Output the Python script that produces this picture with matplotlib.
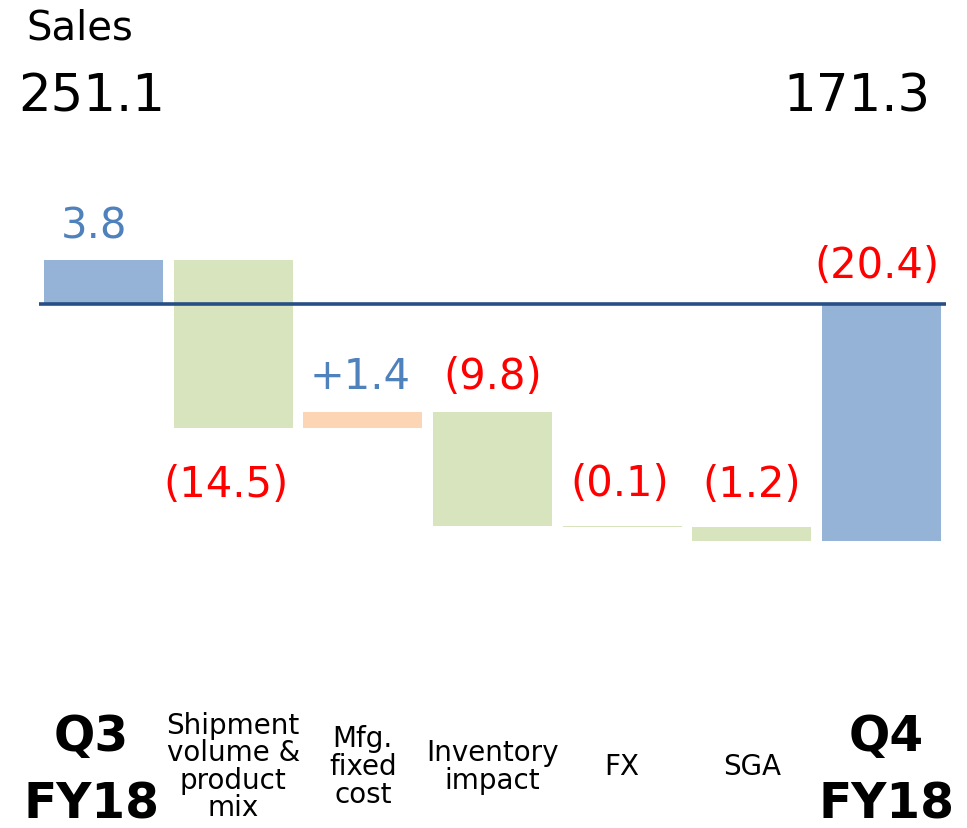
import matplotlib
matplotlib.use("Agg")
import matplotlib.pyplot as plt
import numpy as np

plt.rcParams['font.family'] = ['DejaVu Sans']

categories = ["Q3\nFY18", "Shipment\nvolume &\nproduct\nmix", "Mfg.\nfixed\ncost",
              "Inventory\nimpact", "FX", "SGA", "Q4\nFY18"]
changes = [3.8, -14.5, 1.4, -9.8, -0.1, -1.2]
value_labels = ["3.8", "(14.5)", "+1.4", "(9.8)", "(0.1)", "(1.2)", "(20.4)"]
sales_start = "251.1"
sales_end = "171.3"

BLUE = "#95B3D7"
GREEN = "#D7E4BD"
PEACH = "#FCD5B5"
LINE = "#254F85"
POS_TXT = "#4F81BD"
NEG_TXT = "#FF0000"

# waterfall geometry from data
cum = np.cumsum(changes)
final = cum[-1]
bottoms, heights, colors = [], [], []
bottoms.append(0); heights.append(changes[0]); colors.append(BLUE)
prev = changes[0]
for i, c in enumerate(changes[1:], start=1):
    bottoms.append(prev); heights.append(c)
    colors.append(PEACH if c > 0 else GREEN)
    prev = prev + c
bottoms.append(0); heights.append(final); colors.append(BLUE)

W, H = 967, 829
fig = plt.figure(figsize=(W / 100, H / 100), dpi=100)
# axes placement in pixels
px_per_unit = 11.6
base_px = 305
top_px, bot_px = 130, 700
left_px, right_px = 38.7, 946.3
ax = fig.add_axes([left_px / W, 1 - bot_px / H, (right_px - left_px) / W, (bot_px - top_px) / H])
ax.set_xlim(-0.5, 6.5)
ax.set_ylim(-(bot_px - base_px) / px_per_unit, (base_px - top_px) / px_per_unit)
ax.axis("off")

x = np.arange(len(categories))
ax.bar(x, heights, bottom=bottoms, width=0.918, color=colors, edgecolor="none", zorder=2)
ax.axhline(0, color=LINE, lw=2.6, zorder=3)

# value labels
for i in range(len(categories)):
    b, h = bottoms[i], heights[i]
    top = max(b, b + h)
    lo = min(b, b + h)
    col = POS_TXT if (i < len(changes) and changes[i] > 0) else NEG_TXT
    if i == 1:
        ax.annotate(value_labels[i], (x[i], lo), xytext=(-5, -40), textcoords="offset points",
                    ha="center", va="center", fontsize=30, color=col)
    else:
        off = {0: 25, 2: 26, 3: 26, 4: 31, 5: 31, 6: 28}[i]
        dx = {0: -7, 2: -2, 3: 0, 4: -2, 5: 0, 6: -3}[i]
        ax.annotate(value_labels[i], (x[i], top), xytext=(dx, off), textcoords="offset points",
                    ha="center", va="center", fontsize=30, color=col)

# category labels
for i, lab in enumerate(categories):
    if i in (0, len(categories) - 1):
        q, fy = lab.split("\n")
        dx = -12 if i == 0 else 5
        xf = (ax.transData.transform((x[i], 0))[0] + dx) / W
        fig.text(xf, 1 - 737 / H, q, ha="center", va="center", fontsize=35, fontweight="bold")
        fig.text(xf, 1 - 805 / H, fy, ha="center", va="center", fontsize=35, fontweight="bold")
    else:
        xf = ax.transData.transform((x[i], 0))[0] / W
        fig.text(xf, 1 - 767 / H, lab, ha="center", va="center", fontsize=20,
                 linespacing=0.98)

# Sales headers
fig.text(80 / W, 1 - 28 / H, "Sales", ha="center", va="center", fontsize=29)
fig.text(92 / W, 1 - 97 / H, sales_start, ha="center", va="center", fontsize=37)
fig.text(857 / W, 1 - 97 / H, sales_end, ha="center", va="center", fontsize=37)

fig.savefig("out.png", dpi=100, facecolor="white")
